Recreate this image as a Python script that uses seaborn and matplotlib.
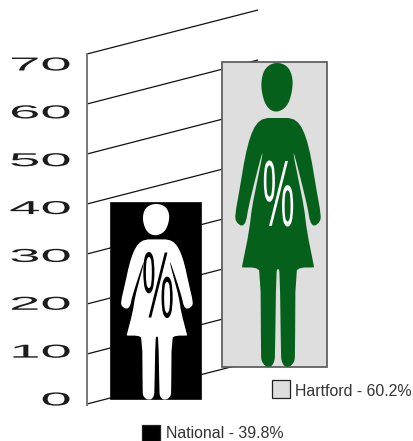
import numpy as np
import matplotlib
matplotlib.use('Agg')
import matplotlib.pyplot as plt
import matplotlib.patheffects as pe
import seaborn as sns
from matplotlib.patches import PathPatch, Rectangle
from matplotlib.path import Path
from matplotlib.transforms import Affine2D

# Chart data, bar heights
categories = ['National', 'Hartford']
bar_heights = [39.2, 61.0]
bar_lifts = [1.0, 7.4]  # fake 3d floor under each bar
legend_labels = ['National - 39.8%', 'Hartford - 60.2%']
tick_values = [0, 10, 20, 30, 40, 50, 60, 70]

W, H = 413, 441

# Pictogram outline, taken from the Hartford figure in pixels
head_pts = [(277, 62), (288, 66), (293, 78), (292, 93), (287, 107), (276, 113),
            (266, 107), (261, 90), (262, 75), (267, 66)]
half_pts = [(278, 118), (292, 118), (300, 124), (306, 137), (311, 157), (316, 187),
            (321, 215), (320, 222), (314, 226.5), (310, 222), (307.5, 207), (301, 180),
            (294, 153), (293.5, 155), (298.5, 180), (304, 207), (307, 232), (314, 266.5), (314, 267.5),
            (301, 267.5), (295.5, 271), (295, 355), (294.5, 361), (291, 366), (287.5, 367), (284, 366),
            (281.5, 361), (281, 355), (279.8, 272), (278, 268)]


def chaikin(pts, rounds=2):
    pts = np.array(pts, dtype=float)
    for _ in range(rounds):
        nxt = np.roll(pts, -1, axis=0)
        pts = np.column_stack([0.75 * pts + 0.25 * nxt, 0.25 * pts + 0.75 * nxt]).reshape(-1, 2)
    return pts


class Stretch(pe.AbstractPathEffect):
    # squeezes or widens the text glyphs, the way the original labels were
    def __init__(self, sx=1.0, sy=1.0, anchor='center'):
        super().__init__()
        self.sx, self.sy, self.anchor = sx, sy, anchor

    def draw_path(self, renderer, gc, tpath, affine, rgbFace=None):
        ext = tpath.get_extents()
        px = ext.x1 if self.anchor == 'right' else (ext.x0 + ext.x1) / 2
        py = (ext.y0 + ext.y1) / 2
        tr = Affine2D().translate(-px, -py).scale(self.sx, self.sy).translate(px, py) + affine
        renderer.draw_path(gc, tpath, tr, rgbFace)


sns.set_style('white')
plt.rcParams['font.family'] = ['Liberation Sans', 'DejaVu Sans']

fig = plt.figure(figsize=(W / 100, H / 100), dpi=100)
ax = fig.add_axes([87 / W, 0, 1 - 87 / W, 1])

sns.barplot(x=categories, y=bar_heights, hue=categories,
            palette=['black', '#dedede'], saturation=1, errorbar=None, legend=False, ax=ax)


def xd(px):
    return (px - 156) / 118.5


def yd(py):
    return (404 - py) / 5.0


ax.set_xlim(xd(87), xd(W))
ax.set_ylim(yd(H), yd(0))

# Bars sit on the sloped floor and have different widths
bar_widths = [90, 105]
bar_edges = ['black', '#555555']
for patch, lift, w, ec, pos in zip(ax.patches, bar_lifts, bar_widths, bar_edges, [0, 1]):
    patch.set_y(lift)
    patch.set_width(w / 118.5)
    patch.set_x(pos - w / 118.5 / 2)
    patch.set_edgecolor(ec)
    patch.set_linewidth(1.2)
    patch.set_zorder(3)

# Sloped grid lines going back in depth
for t in tick_values:
    ax.plot([xd(87), xd(258)], [t, t + 44 / 5.0], color='#111111', lw=0.9, zorder=1,
            solid_capstyle='butt')

for name in ['top', 'right', 'bottom']:
    ax.spines[name].set_visible(False)
ax.spines['left'].set_color('#777777')
ax.spines['left'].set_linewidth(1.4)
ax.spines['left'].set_bounds(-0.2, 70)
ax.set_xticks([])
ax.set_yticks([])
ax.set_xlabel('')
ax.set_ylabel('')

# Tick labels run on their own tighter scale than the grid
ax2 = ax.twinx()
ax2.set_ylim((399 - H) / 4.786, 399 / 4.786)
ax2.yaxis.tick_left()
ax2.set_yticks(tick_values)
ax2.tick_params(axis='y', length=0, pad=12, labelsize=13.5, labelcolor='#1c1c1c')
for lab in ax2.get_yticklabels():
    lab.set_path_effects([Stretch(sx=3.0, anchor='right')])
for spine in ax2.spines.values():
    spine.set_visible(False)
ax2.patch.set_visible(False)

# Pictograms: box in pixels, colour, colour of the percent sign, percent position
figure_boxes = [(120, 204, 193, 399), (234, 63, 321, 366)]
figure_colors = ['white', '#04601a']
percent_colors = ['black', 'white']
percent_centers = [(158, 293), (278.5, 201.5)]

head = chaikin(head_pts)
half = np.array(half_pts, dtype=float)
mirror = half[::-1].copy()
mirror[:, 0] = 2 * 278 - mirror[:, 0]
body = chaikin(np.vstack([half, mirror[1:-1]]), rounds=1)

for box, col, pcol, pc in zip(figure_boxes, figure_colors, percent_colors, percent_centers):
    for shape in [head, body]:
        sx = (box[2] - box[0]) / 87.0
        sy = (box[3] - box[1]) / 303.0
        verts = np.column_stack([xd(box[0] + (shape[:, 0] - 234) * sx),
                                 yd(box[1] + (shape[:, 1] - 63) * sy)])
        verts = np.vstack([verts, verts[0]])
        codes = [Path.MOVETO] + [Path.LINETO] * (len(verts) - 2) + [Path.CLOSEPOLY]
        ax.add_patch(PathPatch(Path(verts, codes), facecolor=col, edgecolor='none', zorder=4))
    ax.text(xd(pc[0]), yd(pc[1]), '%', color=pcol, fontsize=68, ha='center', va='center',
            zorder=5, path_effects=[Stretch(sx=0.38)])

# Legend entries sit apart, one per bar
swatches = [(142, 425, 18, 16), (272, 380, 18, 18)]
swatch_colors = ['black', '#dedede']
legend_text_pos = [(166, 433), (295, 391)]
for sw, c, lab, tp in zip(swatches, swatch_colors, legend_labels, legend_text_pos):
    fig.add_artist(Rectangle((sw[0] / W, 1 - (sw[1] + sw[3]) / H), sw[2] / W, sw[3] / H,
                             facecolor=c, edgecolor='#222222', lw=0.9,
                             transform=fig.transFigure))
    fig.text(tp[0] / W, 1 - tp[1] / H, lab, fontsize=11.4, color='#333333', ha='left', va='center')

plt.savefig('out.png', dpi=100)
